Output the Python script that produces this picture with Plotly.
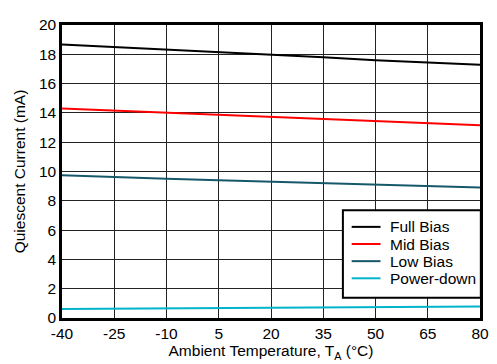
import plotly.graph_objects as go

temps = [-40, -25, -10, 5, 20, 35, 50, 65, 80]
full_bias = [18.67, 18.5, 18.33, 18.17, 18.0, 17.8, 17.6, 17.45, 17.28]
mid_bias = [14.3, 14.15, 14.0, 13.9, 13.75, 13.6, 13.45, 13.3, 13.15]
low_bias = [9.75, 9.6, 9.5, 9.4, 9.3, 9.2, 9.1, 9.0, 8.9]
power_down = [0.62, 0.64, 0.66, 0.68, 0.7, 0.72, 0.74, 0.76, 0.78]

x_ticks = [-40, -25, -10, 5, 20, 35, 50, 65, 80]
y_ticks = [0, 2, 4, 6, 8, 10, 12, 14, 16, 18, 20]

series = [
    ("Full Bias", full_bias, "#000000"),
    ("Mid Bias", mid_bias, "#FF0000"),
    ("Low Bias", low_bias, "#16586A"),
    ("Power-down", power_down, "#00B4CC"),
]

fig = go.Figure()
for name, ys, color in series:
    fig.add_trace(go.Scatter(x=temps, y=ys, mode="lines", name=name,
                             line=dict(color=color, width=2), showlegend=False))

font = "Liberation Sans, Arial, sans-serif"

# Legend box drawn in paper coordinates (layout only)
box = dict(x0=0.672, x1=1.002, y0=0.0695, y1=0.3675)
fig.add_shape(type="rect", xref="paper", yref="paper", **box,
              fillcolor="white", line=dict(color="black", width=2), layer="above")
row_y0, row_step = 0.311, 0.0585
for i, (name, ys, color) in enumerate(series):
    yy = row_y0 - i * row_step
    fig.add_shape(type="line", xref="paper", yref="paper",
                  x0=0.693, x1=0.762, y0=yy, y1=yy,
                  line=dict(color=color, width=2), layer="above")
    fig.add_annotation(xref="paper", yref="paper", x=0.779, y=yy,
                       text=name, showarrow=False, xanchor="left", yanchor="middle",
                       font=dict(size=15.5, family=font, color="black"))

# page body has an 8px margin: plot area spans x 62..486, y 16..318 on screen
fig.update_layout(
    width=489, height=356,
    margin=dict(l=54, r=11, t=8, b=46),
    paper_bgcolor="white", plot_bgcolor="white",
    font=dict(family=font, color="black"),
    showlegend=False,
    xaxis=dict(range=[-40, 80], tickvals=x_ticks, ticktext=[str(v) for v in x_ticks],
               showgrid=True, gridcolor="#222222", gridwidth=1,
               showline=True, linecolor="black", linewidth=2.5, mirror=True,
               ticks="", tickfont=dict(size=15.5), zeroline=False,
               title=dict(text="Ambient Temperature, T<sub>A</sub> (°C)", font=dict(size=15.5), standoff=0)),
    yaxis=dict(range=[0, 20], tickvals=y_ticks,
               showgrid=True, gridcolor="#222222", gridwidth=1,
               showline=True, linecolor="black", linewidth=2.5, mirror=True,
               ticks="", tickfont=dict(size=15.5), zeroline=False,
               title=dict(text="Quiescent Current (mA)", font=dict(size=15.5), standoff=10)),
)

fig.write_html("out.html")
